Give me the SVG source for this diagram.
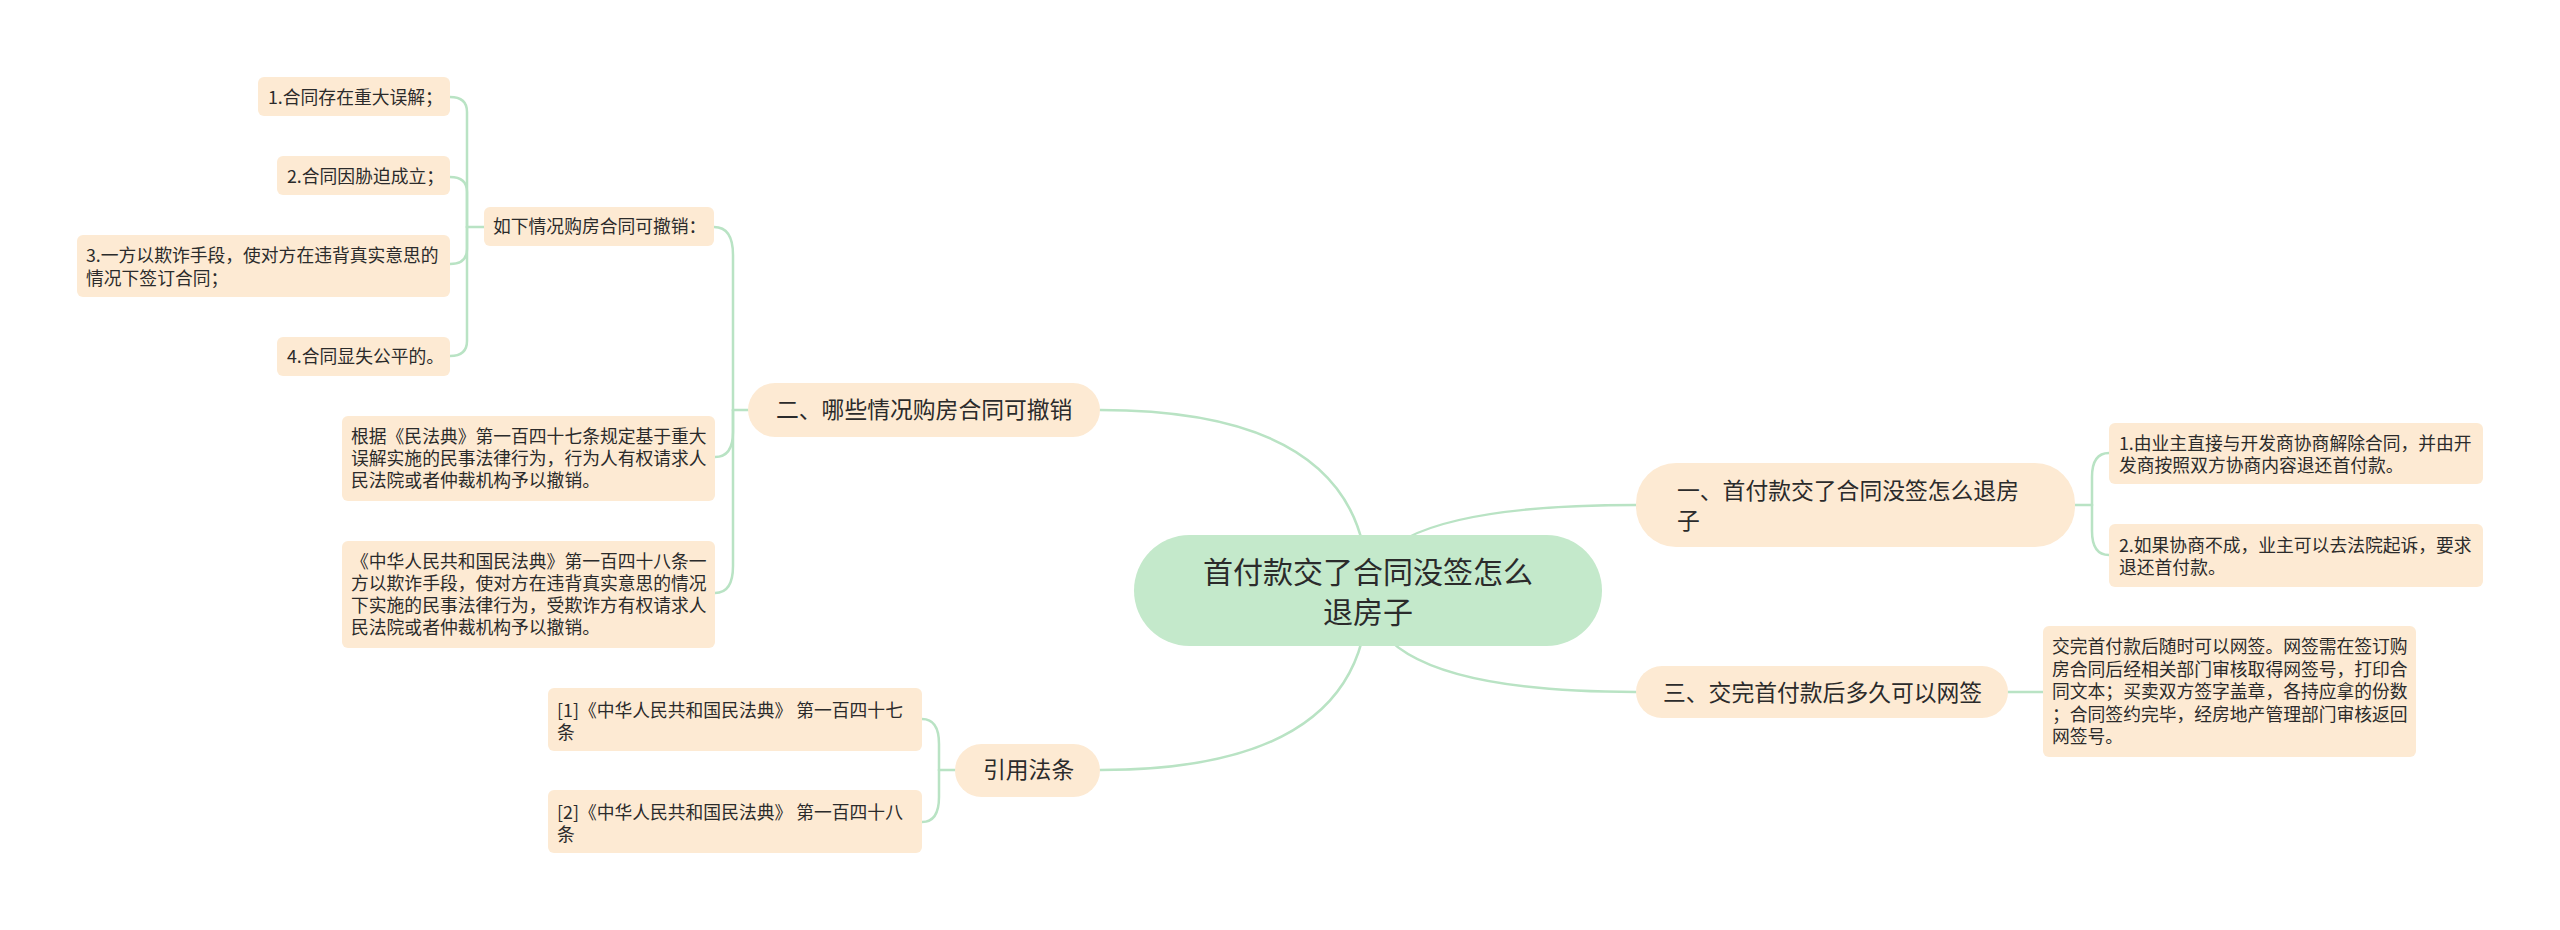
<svg xmlns="http://www.w3.org/2000/svg" width="2560" height="930" viewBox="0 0 2560 930">
<style>
.bg{fill:#ffffff}
.line{fill:none;stroke:#b9e3c4;stroke-width:2.5;stroke-linecap:round}
.root{fill:#c4e9cb}
.l1{fill:#fdead3}
.leaf{fill:#fdead3}
text{font-family:"Noto Sans CJK SC","Microsoft YaHei","Noto Sans",sans-serif;fill:#2b2b2b}
.t0{font-size:30px}
.t1{font-size:22.8px}
.t2{font-size:17.8px}
</style>
<rect class="bg" x="0" y="0" width="2560" height="930"/>
<g id="connectors">
<path class="line" d="M1368,591 Q1368,410 1100,410"/>
<path class="line" d="M1368,591 Q1368,770 1100,770"/>
<path class="line" d="M1368,591 Q1368,505 1636,505"/>
<path class="line" d="M1368,591 Q1368,692 1636,692"/>
<path class="line" d="M748,410 H733"/>
<path class="line" d="M733,410 V255 Q733,227 714,227"/>
<path class="line" d="M733,410 V432 Q733,457 715,457"/>
<path class="line" d="M733,410 V566 Q733,593 715,593"/>
<path class="line" d="M484,227 H467"/>
<path class="line" d="M467,227 V112 Q467,97 450,97"/>
<path class="line" d="M467,227 V192 Q467,177 450,177"/>
<path class="line" d="M467,227 V249 Q467,264 450,264"/>
<path class="line" d="M467,227 V341 Q467,356 450,356"/>
<path class="line" d="M955,770 H939"/>
<path class="line" d="M939,770 V744 Q939,719 922,719"/>
<path class="line" d="M939,770 V797 Q939,822 922,822"/>
<path class="line" d="M2075,505 H2092"/>
<path class="line" d="M2092,505 V477 Q2092,453 2109,453"/>
<path class="line" d="M2092,505 V531 Q2092,555 2109,555"/>
<path class="line" d="M2008,692 H2043"/>
</g>
<g id="root">
<rect class="root" x="1134" y="535" width="468" height="111" rx="55.5"/>
<text class="t0" x="1368" y="583" text-anchor="middle">首付款交了合同没签怎么</text>
<text class="t0" x="1368" y="623" text-anchor="middle">退房子</text>
</g>
<g id="n-er">
<rect class="l1" x="748" y="383" width="352" height="54" rx="27"/>
<text class="t1" x="776" y="418">二、哪些情况购房合同可撤销</text>
</g>
<g id="n-ruxia">
<rect class="leaf" x="484" y="207" width="230" height="39" rx="6"/>
<text class="t2" x="493" y="233">如下情况购房合同可撤销：</text>
</g>
<g id="n-r1">
<rect class="leaf" x="258" y="77" width="192" height="39" rx="6"/>
<text class="t2" x="268" y="104">1.合同存在重大误解；</text>
</g>
<g id="n-r2">
<rect class="leaf" x="277" y="156" width="173" height="39" rx="6"/>
<text class="t2" x="287" y="183">2.合同因胁迫成立；</text>
</g>
<g id="n-r3">
<rect class="leaf" x="77" y="235" width="373" height="62" rx="6"/>
<text class="t2" x="86" y="262">3.一方以欺诈手段，使对方在违背真实意思的</text>
<text class="t2" x="86" y="285">情况下签订合同；</text>
</g>
<g id="n-r4">
<rect class="leaf" x="277" y="337" width="173" height="39" rx="6"/>
<text class="t2" x="287" y="363">4.合同显失公平的。</text>
</g>
<g id="n-genju">
<rect class="leaf" x="342" y="416" width="373" height="85" rx="6"/>
<text class="t2" x="351" y="443">根据《民法典》第一百四十七条规定基于重大</text>
<text class="t2" x="351" y="465">误解实施的民事法律行为，行为人有权请求人</text>
<text class="t2" x="351" y="487">民法院或者仲裁机构予以撤销。</text>
</g>
<g id="n-148">
<rect class="leaf" x="342" y="541" width="373" height="107" rx="6"/>
<text class="t2" x="351" y="568">《中华人民共和国民法典》第一百四十八条一</text>
<text class="t2" x="351" y="590">方以欺诈手段，使对方在违背真实意思的情况</text>
<text class="t2" x="351" y="612">下实施的民事法律行为，受欺诈方有权请求人</text>
<text class="t2" x="351" y="634">民法院或者仲裁机构予以撤销。</text>
</g>
<g id="n-yinyong">
<rect class="l1" x="955" y="744" width="145" height="53" rx="26.5"/>
<text class="t1" x="983" y="778">引用法条</text>
</g>
<g id="n-ref1">
<rect class="leaf" x="548" y="688" width="374" height="63" rx="6"/>
<text class="t2" x="557" y="717">[1]《中华人民共和国民法典》 第一百四十七</text>
<text class="t2" x="557" y="739">条</text>
</g>
<g id="n-ref2">
<rect class="leaf" x="548" y="790" width="374" height="63" rx="6"/>
<text class="t2" x="557" y="819">[2]《中华人民共和国民法典》 第一百四十八</text>
<text class="t2" x="557" y="841">条</text>
</g>
<g id="n-yi">
<rect class="l1" x="1636" y="463" width="439" height="84" rx="40"/>
<text class="t1" x="1677" y="499">一、首付款交了合同没签怎么退房</text>
<text class="t1" x="1677" y="529">子</text>
</g>
<g id="n-yi1">
<rect class="leaf" x="2109" y="423" width="374" height="61" rx="6"/>
<text class="t2" x="2119" y="450">1.由业主直接与开发商协商解除合同，并由开</text>
<text class="t2" x="2119" y="472">发商按照双方协商内容退还首付款。</text>
</g>
<g id="n-yi2">
<rect class="leaf" x="2109" y="524" width="374" height="63" rx="6"/>
<text class="t2" x="2119" y="552">2.如果协商不成，业主可以去法院起诉，要求</text>
<text class="t2" x="2119" y="574">退还首付款。</text>
</g>
<g id="n-san">
<rect class="l1" x="1636" y="666" width="372" height="52" rx="26"/>
<text class="t1" x="1663" y="701">三、交完首付款后多久可以网签</text>
</g>
<g id="n-san1">
<rect class="leaf" x="2043" y="626" width="373" height="131" rx="6"/>
<text class="t2" x="2052" y="653">交完首付款后随时可以网签。网签需在签订购</text>
<text class="t2" x="2052" y="676">房合同后经相关部门审核取得网签号，打印合</text>
<text class="t2" x="2052" y="698">同文本；买卖双方签字盖章，各持应拿的份数</text>
<text class="t2" x="2052" y="721">；合同签约完毕，经房地产管理部门审核返回</text>
<text class="t2" x="2052" y="743">网签号。</text>
</g>
</svg>
